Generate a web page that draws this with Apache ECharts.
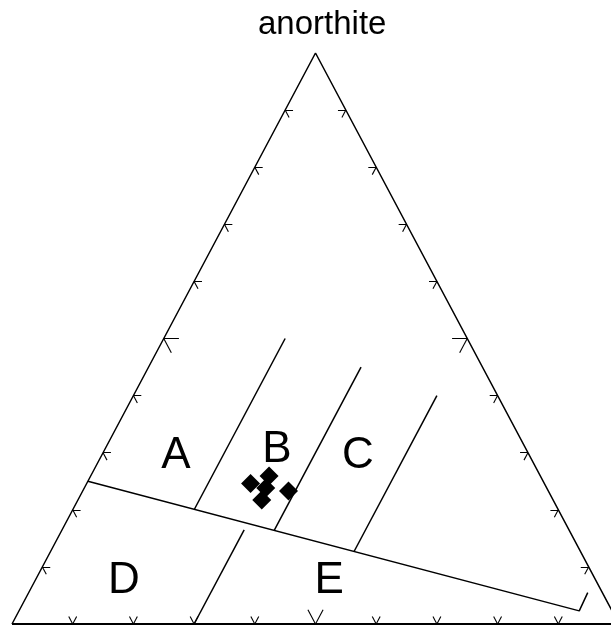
<!DOCTYPE html>
<html>
<head>
<meta charset="utf-8">
<script src="https://cdn.jsdelivr.net/npm/echarts@6/dist/echarts.min.js"></script>
<style>
  html, body { margin: 0; padding: 0; background: #fff; }
  #chart { width: 611px; height: 630px; }
</style>
</head>
<body>
<div id="chart"></div>
<script>
// Ternary compositions are written as [anorthite, right-corner component];
// the left-corner component is the remainder to 1.
const apexName = 'anorthite';

const outline = [[0, 0], [1, 0], [0, 1], [0, 0]];

// Field boundaries
const boundaryMain = [[0.25, 0], [0.023, 0.923], [0.055, 0.921]];
const boundaryAB = [[0.50, 0.20], [0.201, 0.20]];
const boundaryBC = [[0.45, 0.35], [0.164, 0.35]];
const boundaryCR = [[0.40, 0.50], [0.127, 0.50]];
const boundaryDE = [[0.165, 0.30], [0, 0.30]];

// Analysed samples
const sampleAn = [0.246, 0.259, 0.238, 0.217, 0.233];
const sampleR  = [0.270, 0.294, 0.299, 0.303, 0.339];

// Field names and where they sit
const fieldNames = ['A', 'B', 'C', 'D', 'E'];
const fieldAn = [0.294, 0.305, 0.294, 0.075, 0.075];
const fieldR  = [0.123, 0.284, 0.423, 0.147, 0.485];

// Tick positions along each side (fraction)
const tickSteps = [0.1, 0.2, 0.3, 0.4, 0.5, 0.6, 0.7, 0.8, 0.9];

function toXY(an, r) { return [r + an / 2, an]; }
function path(list) { return list.map(p => toXY(p[0], p[1])); }

// Each tick is a pair of short arms running inward along the two grid
// directions that are not parallel to its own side.
const tickSegs = [];
tickSteps.forEach(t => {
  const d = Math.abs(t - 0.5) < 1e-9 ? 0.025 : 0.013;
  // base (anorthite = 0)
  let p = toXY(0, t);
  tickSegs.push([p, toXY(d, t)]);
  tickSegs.push([p, toXY(d, t - d)]);
  // left side (right component = 0)
  p = toXY(t, 0);
  tickSegs.push([p, toXY(t, d)]);
  tickSegs.push([p, toXY(t - d, d)]);
  // right side (left component = 0)
  p = toXY(t, 1 - t);
  tickSegs.push([p, toXY(t, 1 - t - d)]);
  tickSegs.push([p, toXY(t - d, 1 - t)]);
});

function edge(list, w) {
  return {
    type: 'line', data: path(list), symbol: 'none', silent: true,
    lineStyle: { color: '#000', width: w || 1.5 }, z: 2
  };
}

// The plot box stops at the right page edge; the triangle's right corner
// lies a few pixels beyond it, so the x range ends just short of 1.
const plotLeft = 12, unitPx = 607, plotWidth = 611 - plotLeft;

const chart = echarts.init(document.getElementById('chart'), null, { renderer: 'canvas' });
chart.setOption({
  animation: false,
  backgroundColor: '#fff',
  title: {
    text: apexName, left: 253, top: 3,
    textStyle: { fontFamily: 'Liberation Sans, Arial, sans-serif', fontSize: 33, fontWeight: 'normal', color: '#000' }
  },
  grid: { left: plotLeft, top: 53, width: plotWidth, height: 571, containLabel: false },
  xAxis: { type: 'value', min: 0, max: plotWidth / unitPx, show: false },
  yAxis: { type: 'value', min: 0, max: 1, show: false },
  series: [
    edge(outline, 1.5),
    {
      type: 'line', data: path([[0, 0], [0, 1]]), symbol: 'none', silent: true,
      lineStyle: { color: '#000', width: 2.2 }, z: 2
    },
    edge(boundaryMain),
    edge(boundaryAB),
    edge(boundaryBC),
    edge(boundaryCR),
    edge(boundaryDE),
    {
      type: 'lines', coordinateSystem: 'cartesian2d', silent: true,
      data: tickSegs.map(s => ({ coords: s })),
      lineStyle: { color: '#000', width: 1.1, opacity: 1 }, z: 2
    },
    {
      type: 'scatter', symbol: 'diamond', symbolSize: 19,
      itemStyle: { color: '#000', opacity: 1 },
      data: sampleAn.map((a, i) => toXY(a, sampleR[i])), z: 4
    },
    {
      type: 'scatter', symbolSize: 0, silent: true,
      itemStyle: { opacity: 1 },
      data: fieldNames.map((n, i) => ({ name: n, value: toXY(fieldAn[i], fieldR[i]) })),
      label: {
        show: true, position: 'inside', formatter: '{b}',
        fontFamily: 'Liberation Sans, Arial, sans-serif', fontSize: 44, color: '#000'
      }, z: 3
    }
  ]
});
</script>
</body>
</html>
